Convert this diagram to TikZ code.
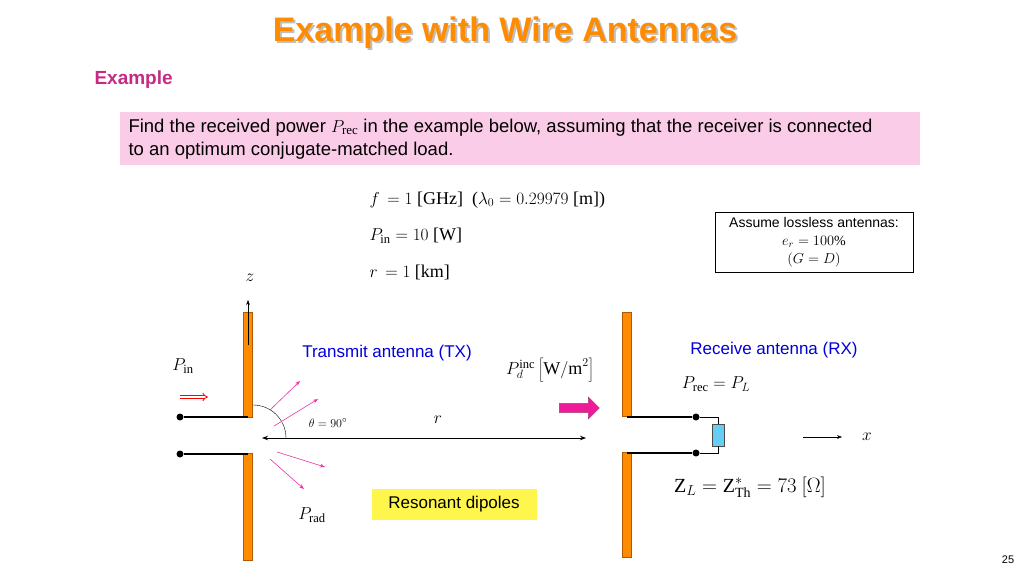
\documentclass[tikz,border=0pt]{standalone}
\usepackage{fontspec}
\setmainfont{Liberation Serif}
\newfontfamily\arialfont{Liberation Sans}
\usetikzlibrary{arrows.meta,shapes.arrows}
\tikzset{
  rod/.style={draw=orange!70!black, fill=orange!90!yellow, line width=.4pt},
  feed/.style={line width=2pt, black},
  term/.style={circle, fill=black, inner sep=0pt, minimum size=7pt},
  ray/.style={-{Stealth[length=5pt]}, magenta!80, line width=.6pt},
  sans/.style={font=\arialfont\fontsize{17}{20}\selectfont},
  eq/.style={font=\fontsize{18}{21}\selectfont},
}
\begin{document}
\begin{tikzpicture}[x=1pt,y=-1pt]
    \useasboundingbox[fill=white] (0,0) rectangle (1024,576);
    % Titel
    \node[font=\arialfont\bfseries\fontsize{34}{38}\selectfont, text=gray!50] at (507,35) {Example with Wire Antennas};
    \node[font=\arialfont\bfseries\fontsize{34}{38}\selectfont, text=orange!90!yellow] (title) at (505,33) {Example with Wire Antennas};
    \node[font=\arialfont\bfseries\fontsize{19}{22}\selectfont, text=magenta!80!black, anchor=west] (ex) at (91,80) {Example};
    % Aufgabe
    \fill[magenta!20] (120,112) rectangle (920,165);
    \node[font=\arialfont\fontsize{18.5}{23}\selectfont, anchor=west, align=left] (task) at (125,139) {Find the received power $P_{\mathrm{rec}}$ in the example below, assuming that the receiver is connected\\to an optimum conjugate-matched load.};
    % Daten
    \node[eq, anchor=west] (freq) at (366,200) {$f\,=1$ [GHz] \ ($\lambda_0=0.29979$ [m])};
    \node[eq, anchor=west] (pin) at (366,236) {$P_{\mathrm{in}}=10$ [W]};
    \node[eq, anchor=west] (dist) at (366,272) {$r\,=1$ [km]};
    \node[draw, line width=1pt, minimum width=198pt, minimum height=60pt, align=center,
          font=\arialfont\fontsize{14}{18}\selectfont] (loss) at (814,242)
          {Assume lossless antennas:\\ {\rmfamily $e_r=100\%$}\\ {\rmfamily $(G=D)$}};
    % Sendeantenne
    \node[eq] (z) at (250,278) {$z$};
    \draw[rod] (243,312) rectangle (252,417);
    \draw[rod] (243,453) rectangle (252,560);
    \draw[-{Stealth[length=5pt]}, thin] (248,345) -- (248,300);
    \node[term] (t1) at (180,417) {};
    \node[term] (t2) at (180,454) {};
    \draw[feed] (t1) -- (248,417);
    \draw[feed] (t2) -- (248,454);
    \draw[red, double, double distance=2pt, line width=.8pt, -{Implies}] (180,397) -- (208,397);
    \node[eq] (pinl) at (183,366) {$P_{\mathrm{in}}$};
    \draw[thin] (253,405) arc[start angle=-90, end angle=0, radius=33];
    \coordinate (rl) at (262,438);
    \coordinate (rr) at (586,438);
    \draw[{Stealth[length=6pt]}-{Stealth[length=6pt]}, line width=.8pt] (rl) -- (rr);
    \node[eq] (rlab) at (438,420) {$r$};
    \node[font=\fontsize{13}{15}\selectfont] (theta) at (328,423) {$\theta=90^{\circ}$};
    \draw[ray] (270,410) -- (300,381);
    \draw[ray] (274,426) -- (318,399);
    \draw[ray] (277,452) -- (325,467);
    \draw[ray] (270,459) -- (304,489);
    \node[sans, text=blue!85!black] (tx) at (387,353) {Transmit antenna (TX)};
    \node[eq] (pd) at (550,370) {$P_d^{\mathrm{inc}}\left[\mathrm{W/m}^2\right]$};
    \node[single arrow, fill=magenta!90, draw=magenta!60!black, minimum height=40pt,
          minimum width=22pt, single arrow head extend=3pt, inner sep=2pt] (flow) at (577,408) {};
    \node[sans, fill=yellow!70, minimum width=165pt, minimum height=31pt] (res) at (454,504) {Resonant dipoles};
    \node[eq] (prad) at (312,515) {$P_{\mathrm{rad}}$};
    % Empfangsantenne
    \draw[rod] (622,312) rectangle (631,416);
    \draw[rod] (622,452) rectangle (631,557);
    \node[term] (t3) at (696,417) {};
    \node[term] (t4) at (696,453) {};
    \draw[feed] (627,417) -- (t3);
    \draw[feed] (627,453) -- (t4);
    \node[draw=black!70, fill=cyan!60, minimum width=12pt, minimum height=22pt, inner sep=0pt] (load) at (718,435) {};
    \draw[thin] (t3) -- (718,417) -- (load.north);
    \draw[thin] (t4) -- (718,453) -- (load.south);
    \node[sans, text=blue!85!black] (rx) at (774,350) {Receive antenna (RX)};
    \node[eq] (prec) at (716,384) {$P_{\mathrm{rec}}=P_L$};
    \node[font=\fontsize{20}{23}\selectfont] (zl) at (750,487) {$\mathrm{Z}_L=\mathrm{Z}_{\mathrm{Th}}^{*}=73\ [\Omega]$};
    \coordinate (xa) at (803,437);
    \coordinate (xb) at (842,437);
    \draw[-{Stealth[length=5pt]}, thin] (xa) -- (xb);
    \node[eq] (xl) at (867,437) {$x$};
    \node[font=\arialfont\fontsize{11}{13}\selectfont] (page) at (1008,560) {25};
\end{tikzpicture}
\end{document}
